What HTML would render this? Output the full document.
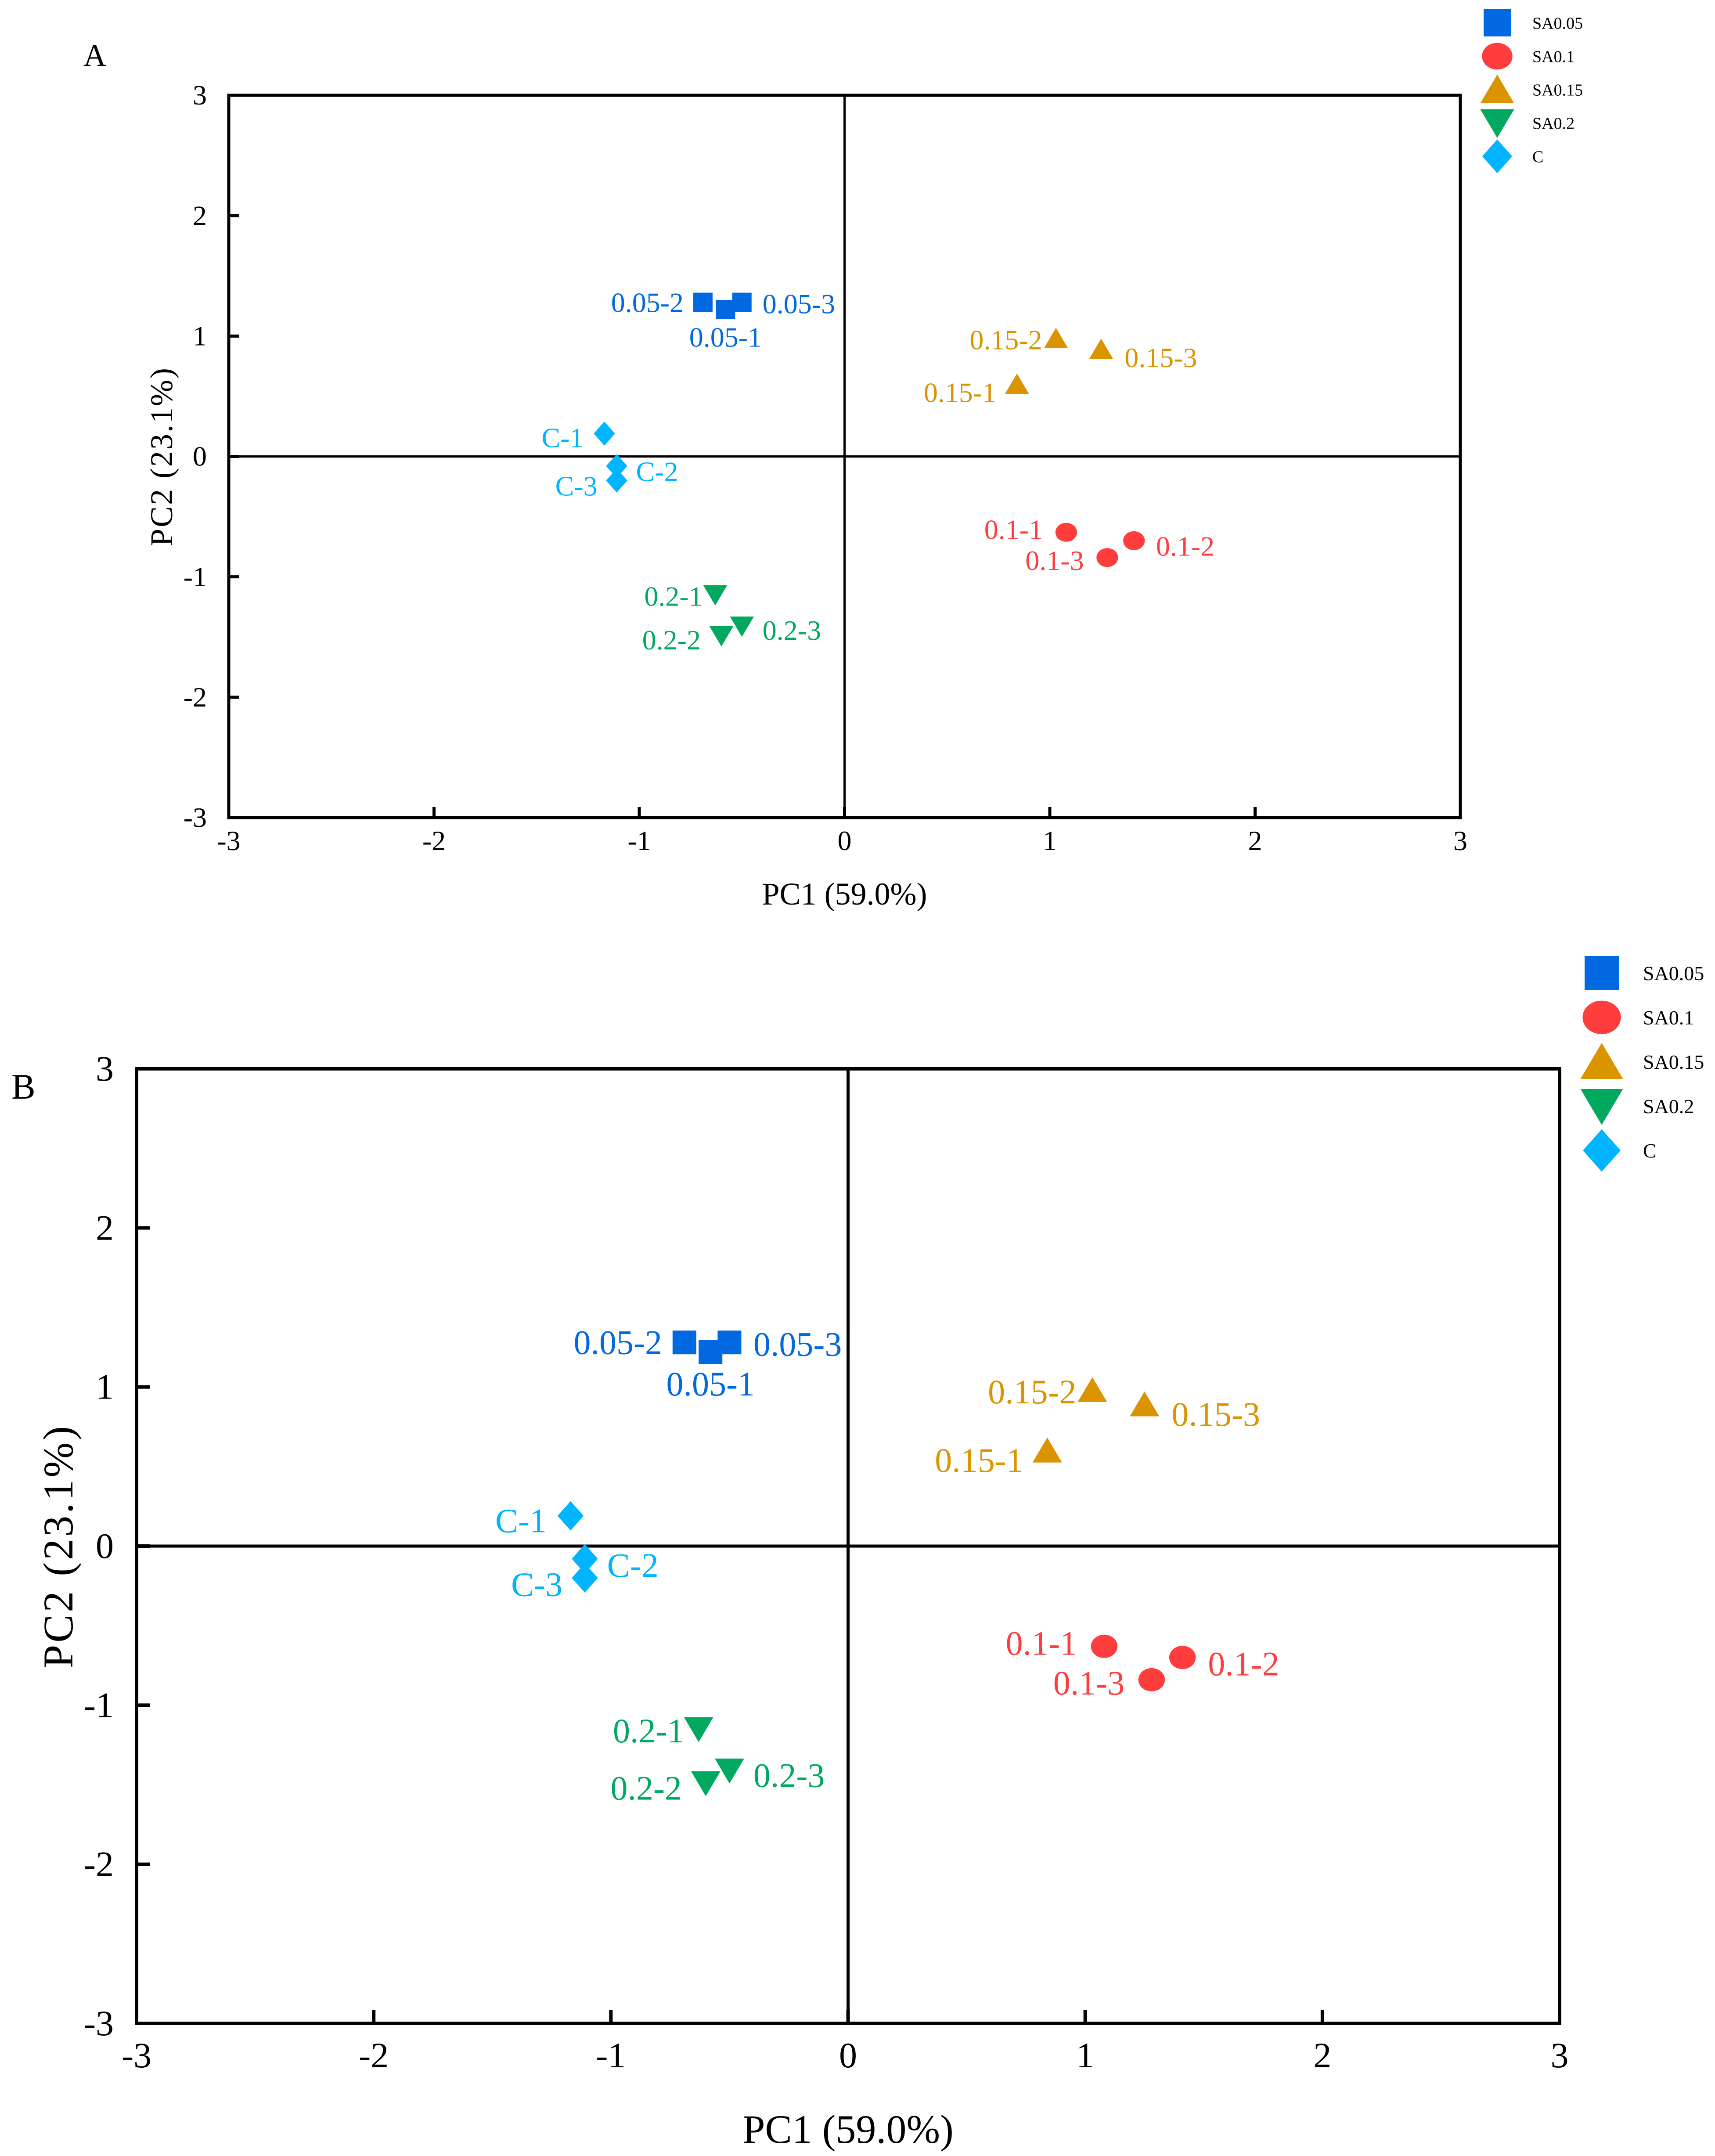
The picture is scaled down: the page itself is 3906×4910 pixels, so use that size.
<!DOCTYPE html>
<html><head><meta charset="utf-8">
<style>
html,body{margin:0;padding:0;background:#fff;}
svg{display:block;font-family:"Liberation Serif","DejaVu Serif",serif;}
svg text{font-family:"Liberation Serif","DejaVu Serif",serif;}
</style></head>
<body>
<svg id="fig" width="3906" height="4910" viewBox="0 0 3906 4910" xmlns="http://www.w3.org/2000/svg" font-family="Liberation Serif, serif"></svg>
<script>
// ---- data ----
const groups = ["SA0.05","SA0.1","SA0.15","SA0.2","C"];
const pointLabels = ["0.05-1","0.05-2","0.05-3","0.1-1","0.1-2","0.1-3","0.15-1","0.15-2","0.15-3","0.2-1","0.2-2","0.2-3","C-1","C-2","C-3"];
const pointGroup = [0,0,0,1,1,1,2,2,2,3,3,3,4,4,4];
const pc1Values = [-0.58,-0.69,-0.50, 1.08,1.41,1.28, 0.84,1.03,1.25, -0.63,-0.60,-0.50, -1.17,-1.11,-1.11];
const pc2Values = [1.22,1.28,1.28, -0.63,-0.70,-0.84, 0.60,0.98,0.89, -1.15,-1.49,-1.41, 0.19,-0.08,-0.20];
const tickValues = [-3,-2,-1,0,1,2,3];
const tickLabels = ["-3","-2","-1","0","1","2","3"];
const legendLabels = ["SA0.05","SA0.1","SA0.15","SA0.2","C"];

// ---- styling ----
const colors = ["#0068e0","#ff3d3d","#d99400","#00a860","#00b4ff"];
const shapes = ["square","circle","tri","dtri","diamond"];
const lblSide = ["b","l","r","l","r","l","l","l","r","l","l","r","l","r","l"];
const lblDx   = [0,-14,15,-17,16,-17,-15,-10,17,-9,-15,15,-15,14,-14];
const lblDy   = [20,0,1,-2,4,2,6,1,6,1,3,3,3,4,4];

const NS="http://www.w3.org/2000/svg";
const svg=document.getElementById('fig');
function el(tag,attrs,parent){const e=document.createElementNS(NS,tag);for(const k in attrs)e.setAttribute(k,attrs[k]);(parent||svg).appendChild(e);return e;}

function marker(g,shape,cx,cy,s,color){
  let e;
  if(shape==="square") e=el('rect',{x:cx-s/2,y:cy-s/2,width:s,height:s,fill:color},g);
  else if(shape==="circle") e=el('ellipse',{cx:cx,cy:cy,rx:s*0.56,ry:s*0.49,fill:color},g);
  else if(shape==="tri") e=el('polygon',{points:`${cx-s*0.62},${cy+s*0.5} ${cx+s*0.62},${cy+s*0.5} ${cx},${cy-s*0.55}`,fill:color},g);
  else if(shape==="dtri") e=el('polygon',{points:`${cx-s*0.62},${cy-s*0.5} ${cx+s*0.62},${cy-s*0.5} ${cx},${cy+s*0.55}`,fill:color},g);
  else e=el('polygon',{points:`${cx},${cy-s*0.62} ${cx+s*0.55},${cy} ${cx},${cy+s*0.62} ${cx-s*0.55},${cy}`,fill:color},g);
  return e;
}

function panel(cfg){
  const g=el('g',{});
  
  
  const xs=v=>cfg.L+(v+3)/6*(cfg.R-cfg.L);
  const ys=v=>cfg.B-(v+3)/6*(cfg.B-cfg.T);
  const zx=el('line',{x1:xs(0),x2:xs(0),y1:cfg.T,y2:cfg.B,stroke:'#000','stroke-width':cfg.zw},g);
  
  const zy=el('line',{x1:cfg.L,x2:cfg.R,y1:ys(0),y2:ys(0),stroke:'#000','stroke-width':cfg.zw},g);
  
  const box=el('rect',{x:cfg.L,y:cfg.T,width:cfg.R-cfg.L,height:cfg.B-cfg.T,fill:'none',stroke:'#000','stroke-width':cfg.bw},g);
  
  tickValues.forEach((v,i)=>{
    const t1=el('line',{x1:xs(v),x2:xs(v),y1:cfg.B,y2:cfg.B-cfg.tl,stroke:'#000','stroke-width':cfg.bw},g);
    
    const t2=el('line',{x1:cfg.L,x2:cfg.L+cfg.tl,y1:ys(v),y2:ys(v),stroke:'#000','stroke-width':cfg.bw},g);
    
    const xl=el('text',{x:xs(v),y:cfg.B+cfg.xtOff,'font-size':cfg.tf,'text-anchor':'middle'},g);
    xl.textContent=tickLabels[i];
    
    const yl=el('text',{x:cfg.L-cfg.ytOff,y:ys(v)+cfg.tf*0.33,'font-size':cfg.tf,'text-anchor':'end'},g);
    yl.textContent=tickLabels[i];
    
  });
  const xt=el('text',{x:xs(0),y:cfg.xTitleY,'font-size':cfg.af,'text-anchor':'middle'},g);
  xt.textContent="PC1 (59.0%)";
  
  const yt=el('text',{x:0,y:0,'font-size':cfg.yaf,'text-anchor':'middle','letter-spacing':cfg.yls,transform:`translate(${cfg.yTitleX},${ys(0)}) rotate(-90)`},g);
  yt.textContent="PC2 (23.1%)";
  
  const pl=el('text',{x:cfg.letterX,y:cfg.letterY,'font-size':cfg.lf},g);
  pl.textContent=cfg.id;
  
  pc1Values.forEach((x,i)=>{
    const gi=pointGroup[i];
    const cx=xs(x), cy=ys(pc2Values[i]);
    const m=marker(g,shapes[gi],cx,cy,cfg.ms,colors[gi]);
    
    
    const side=lblSide[i];
    const anchor= side==='l'?'end':side==='r'?'start':'middle';
    const t=el('text',{x:cx+lblDx[i]*cfg.k,y:cy+lblDy[i]*cfg.k+cfg.pf*0.34,'font-size':cfg.pf,fill:colors[gi],'text-anchor':anchor},g);
    t.textContent=pointLabels[i];
    
    
  });
  legendLabels.forEach((lab,i)=>{
    const cy=cfg.legY0+i*cfg.legStep;
    const m=marker(g,shapes[i],cfg.legX,cy,cfg.legS,colors[i]);
    
    
    const t=el('text',{x:cfg.legTX,y:cy+cfg.legF*0.35,'font-size':cfg.legF,fill:'#000'},g);
    t.textContent=lab;
    
    
  });
}

panel({id:'A',L:521,R:3326,T:217,B:1862,zw:5,bw:7,tl:24,tf:64,xtOff:74,ytOff:50,af:72,yaf:72,yls:3,
  xTitleY:2060,yTitleX:392,letterX:190,letterY:150,lf:72,ms:44,pf:64,k:3.137,
  legX:3410,legY0:52,legStep:76,legS:62,legTX:3490,legF:38});
panel({id:'B',L:311,R:3552,T:2434,B:4608,zw:7,bw:8,tl:30,tf:82,xtOff:100,ytOff:52,af:92,yaf:96,yls:5,
  xTitleY:4880,yTitleX:165,letterX:26,letterY:2502,lf:82,ms:54,pf:78,k:3.63,
  legX:3648,legY0:2216,legStep:101,legS:78,legTX:3742,legF:46});
</script>
</body></html>
